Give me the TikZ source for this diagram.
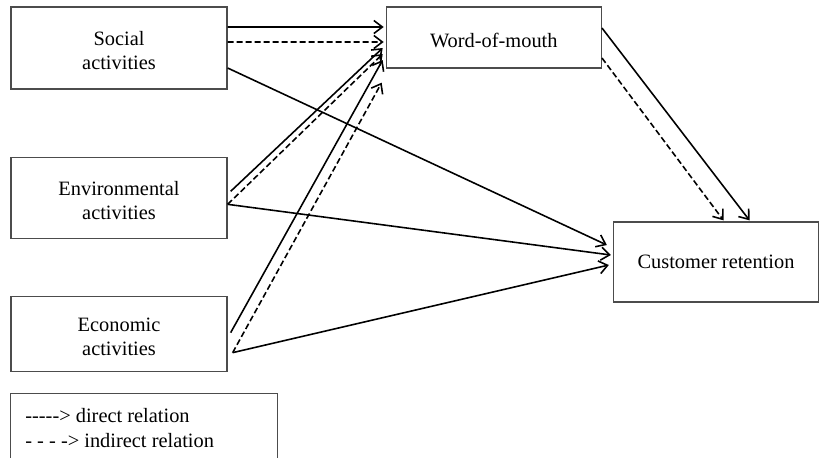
\documentclass[tikz,border=0pt]{standalone}
\usepackage{fontspec}
\setmainfont{Liberation Serif}
\usetikzlibrary{positioning,arrows.meta}
\newcommand\boxstrut{\rule{0pt}{3.9mm}}

\begin{document}
\begin{tikzpicture}[
      x=1mm, y=1mm,
      node distance=13.4mm,
      box/.style={rectangle, draw=black!70, line width=0.75pt, minimum width=43.2mm,
                  align=center, inner sep=1mm, font=\fontsize{11.6}{13.5}\selectfont},
      link/.style={-{Straight Barb[length=1.7mm,width=2.6mm]}, line width=0.9pt},
      indirect/.style={link, dash pattern=on 1.2mm off 0.6mm},
    ]
    \useasboundingbox (0,0) rectangle (163.8,-91.4);

    \node[box, minimum height=16.4mm] (soc) at (23.8,-9.6) {\boxstrut Social\\activities};
    \node[box, minimum height=16.2mm, below=of soc] (env) {\boxstrut Environmental\\activities};
    \node[box, minimum height=15mm, below=11.4mm of env] (eco) {\boxstrut Economic\\activities};
    \node[box, minimum width=43mm, minimum height=12.2mm, right=31.6mm of soc.north east, anchor=north west] (wom) {\boxstrut Word-of-mouth};
    \node[box, minimum width=41mm, minimum height=16mm] (cr) at (143.2,-52.4) {Customer retention};

    \node[box, minimum width=53.4mm, minimum height=16mm, anchor=north west] (key) at (2,-78.6) {};
    \node[anchor=north west, align=left, inner sep=0pt, font=\fontsize{11.6}{14.2}\selectfont]
          (keytext) at ([xshift=3mm,yshift=-3mm]key.north west) {-{}-{}-{}-{}-> direct relation\\- - - -> indirect relation};

    \draw[link] ([yshift=4.2mm]soc.east) -- ([xshift=-0.4mm,yshift=2.1mm]wom.west);
    \draw[indirect] ([yshift=1.2mm]soc.east) -- ([xshift=-0.4mm,yshift=-0.9mm]wom.west);
    \draw[link] ([yshift=-4mm]soc.east) -- ([xshift=-1.2mm,yshift=3.4mm]cr.west);

    \draw[link] ([xshift=0.6mm,yshift=1.3mm]env.east) -- ([xshift=-0.6mm,yshift=-2.1mm]wom.west);
    \draw[indirect] ([yshift=-1.3mm]env.east) -- ([xshift=-0.6mm,yshift=-3.3mm]wom.west);
    \draw[link] ([yshift=-1.3mm]env.east) -- ([xshift=-0.4mm,yshift=1.4mm]cr.west);

    \draw[link] ([xshift=0.6mm,yshift=0.3mm]eco.east) -- ([xshift=-0.6mm,yshift=-4.5mm]wom.west);
    \draw[indirect] ([xshift=1mm,yshift=-3.7mm]eco.east) -- ([xshift=-0.8mm,yshift=-2.8mm]wom.south west);
    \draw[link] ([xshift=1mm,yshift=-3.7mm]eco.east) -- ([xshift=-0.8mm,yshift=-0.6mm]cr.west);

    \draw[link] ([yshift=1.9mm]wom.east) -- ([xshift=6.7mm,yshift=0.2mm]cr.north);
    \draw[indirect] ([yshift=-4.1mm]wom.east) -- ([xshift=1.5mm,yshift=0.2mm]cr.north);
  \end{tikzpicture}
\end{document}
